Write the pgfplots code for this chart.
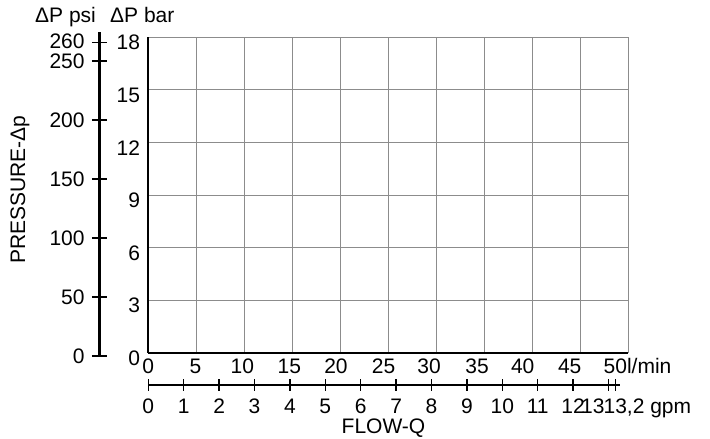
\documentclass[border=0pt]{standalone}
\usepackage{fontspec}
\setmainfont{Liberation Sans}
\usepackage{pgfplots}
\pgfplotsset{compat=1.18}
\definecolor{gridgray}{RGB}{140,140,140}
\begin{document}
\begin{tikzpicture}[font=\fontsize{21bp}{25bp}\selectfont]
% main grid axis (bar vs l/min)
\begin{axis}[at={(148.3bp,86bp)}, anchor=south west, scale only axis,
  width=480bp, height=315.7bp,
  xmin=0, xmax=50, ymin=0, ymax=18,
  xtick={0,5,10,15,20,25,30,35,40,45,50}, xticklabels={},
  ytick={0,3,6,9,12,15,18}, yticklabels={0,3,6,9,12,15,18},
  grid=major, grid style={gridgray, line width=1bp},
  major tick length=0pt,
  axis x line*=bottom, axis y line*=left,
  axis line style={black, line width=2.2bp, -},
  yticklabel style={anchor=base east, inner sep=0pt, xshift=-8bp, yshift=-12.5bp},
  extra x ticks={0,4.9,9.8,14.7,19.55,24.5,29.25,34.25,39.0,43.9,48.65},
  extra x tick labels={0,5,10,15,20,25,30,35,40,45,{50\rlap{l/min}}},
  extra x tick style={grid=none, major tick length=0pt,
    xticklabel style={anchor=base, inner sep=0pt, yshift=-21bp}},
]
\end{axis}
% psi axis
\begin{axis}[at={(99.3bp,83bp)}, anchor=south west, scale only axis,
  width=1bp, height=324bp,
  xmin=0, xmax=1, ymin=0, ymax=274.6,
  axis y line*=left, axis x line=none,
  axis line style={black, line width=2.5bp, -},
  xtick=\empty,
  ytick={0,50,100,150,200,250,265.5}, yticklabels={0,50,100,150,200,250,{\raisebox{2bp}{260}}},
  tick align=center, major tick length=15bp, tick style={black, line width=1.5bp},
  yticklabel style={anchor=base east, inner sep=0pt, xshift=-7bp, yshift=-7.5bp},
]
\end{axis}
% gpm axis
\begin{axis}[at={(148.3bp,54bp)}, anchor=south west, scale only axis,
  width=471.7bp, height=1bp,
  xmin=0, xmax=13.325, ymin=0, ymax=1,
  axis x line*=bottom, axis y line=none,
  axis line style={black, line width=2.5bp, -},
  ytick=\empty,
  xtick={0,1,2,3,4,5,6,7,8,9,10,11,12,13,13.2},
  xticklabels={0,1,2,3,4,5,6,7,8,9,10,11,12,{\makebox[0pt][r]{13\hspace{4bp}}},{\makebox[0pt][l]{\hspace{-12bp}13,2 gpm}}},
  tick align=center, major tick length=11bp, tick style={black, line width=1.5bp},
  xticklabel style={anchor=base, inner sep=0pt, yshift=-22.5bp},
]
\end{axis}
\node[anchor=base west, inner sep=0pt] at (35bp,416.5bp) {ΔP psi};
\node[anchor=base west, inner sep=0pt] at (110bp,416.5bp) {ΔP bar};
\node[anchor=base, rotate=90, inner sep=0pt] at (25bp,249.5bp) {PRESSURE-Δp};
\node[anchor=base, inner sep=0pt] at (383.5bp,6bp) {FLOW-Q};
\pgfresetboundingbox
\path (0,0) rectangle (710bp,439bp);
\end{tikzpicture}
\end{document}
